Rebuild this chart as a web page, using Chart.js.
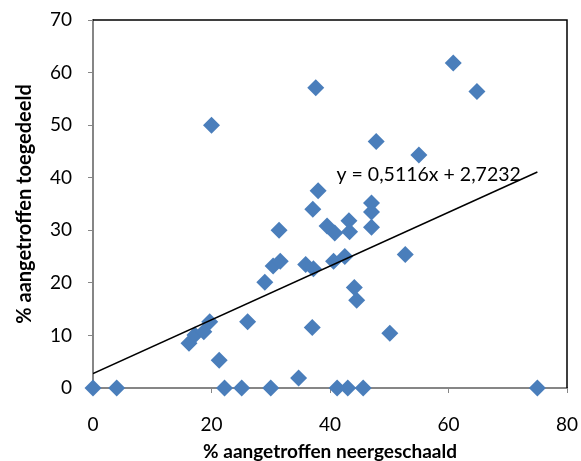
<!DOCTYPE html>
<html>
<head>
<meta charset="utf-8">
<script src="https://cdn.jsdelivr.net/npm/chart.js@4.4.1/dist/chart.umd.min.js"></script>
<style>
html,body{margin:0;padding:0;background:#fff;}
#wrap{width:581px;height:461px;position:relative;}
</style>
</head>
<body>
<div id="wrap"><canvas id="c" width="581" height="461"></canvas></div>
<script>
// % aangetroffen neergeschaald (x) vs % aangetroffen toegedeeld (y)
const xValues = [0, 4, 22.2, 25.1, 30, 41.2, 43, 45.6, 75,
  34.7, 21.3, 16.2, 17.2, 18.7, 19.7, 26.1, 37.0, 50.1,
  44.5, 44.1, 29.0, 30.4, 31.6, 35.9, 37.2, 40.6, 42.5,
  52.7, 31.4, 39.5, 40.8, 43.2, 43.3, 47.0, 47.0, 47.0,
  37.1, 38.0, 47.8, 55.0, 20.0, 37.6, 60.8, 64.8];
const yValues = [0, 0, 0, 0, 0, 0, 0, 0, 0,
  1.9, 5.3, 8.5, 10.1, 10.7, 12.6, 12.6, 11.5, 10.4,
  16.7, 19.1, 20.1, 23.2, 24.1, 23.5, 22.7, 24.1, 25.0,
  25.4, 30.0, 30.8, 29.5, 31.8, 29.7, 35.2, 33.5, 30.6,
  34.0, 37.5, 46.9, 44.3, 50.0, 57.1, 61.8, 56.4];
const trendSlope = 0.5116;
const trendIntercept = 2.7232;
const trendRange = [0, 75];
const trendLabel = 'y = 0,5116x + 2,7232';
const xTicks = [0, 20, 40, 60, 80];
const yTicks = [0, 10, 20, 30, 40, 50, 60, 70];
const xTitle = '% aangetroffen neergeschaald';
const yTitle = '% aangetroffen toegedeeld';

const points = xValues.map((x, i) => ({x: x, y: yValues[i]}));
const trendPoints = trendRange.map(x => ({x: x, y: trendSlope * x + trendIntercept}));

const FONT = 'Lato, "Open Sans", sans-serif';
const axisGray = '#868686';

const framePlugin = {
  id: 'frame',
  beforeDatasetsDraw(chart) {
    const {ctx, chartArea: a} = chart;
    ctx.save();
    ctx.strokeStyle = '#000';
    ctx.lineWidth = 1.5;
    ctx.beginPath();
    ctx.moveTo(a.left, a.top);
    ctx.lineTo(a.right, a.top);
    ctx.lineTo(a.right, a.bottom);
    ctx.stroke();
    ctx.restore();
  },
  afterDraw(chart) {
    const {ctx, scales} = chart;
    ctx.save();
    ctx.fillStyle = '#000';
    ctx.font = '19.5px ' + FONT;
    ctx.textAlign = 'left';
    ctx.textBaseline = 'middle';
    ctx.fillText(trendLabel, scales.x.getPixelForValue(41.1), scales.y.getPixelForValue(40.5));
    ctx.restore();
  }
};

new Chart(document.getElementById('c'), {
  type: 'scatter',
  data: {
    datasets: [
      {
        label: 'trend',
        type: 'line',
        data: trendPoints,
        borderColor: '#000',
        borderWidth: 1.5,
        pointRadius: 0,
        fill: false,
        order: 0
      },
      {
        label: 'data',
        data: points,
        pointStyle: 'rectRot',
        pointRadius: 8.5,
        pointHoverRadius: 8.5,
        backgroundColor: '#4A7EBB',
        borderColor: '#4A7EBB',
        borderWidth: 0,
        order: 1,
        clip: false
      }
    ]
  },
  options: {
    responsive: false,
    animation: false,
    events: [],
    layout: {padding: {top: 20, right: 14, left: 0, bottom: 0}},
    plugins: {legend: {display: false}, tooltip: {enabled: false}},
    scales: {
      x: {
        type: 'linear',
        min: 0, max: 80,
        afterBuildTicks(s) { s.ticks = xTicks.map(v => ({value: v})); },
        afterFit(s) { s.height = 73; s.paddingLeft = 0; s.paddingRight = 0; },
        grid: {drawOnChartArea: false, drawTicks: true, tickLength: 5, color: axisGray, lineWidth: 1},
        border: {color: axisGray, width: 2},
        ticks: {color: '#000', font: {family: FONT, size: 19}, padding: 20, maxRotation: 0},
        title: {display: true, text: xTitle, color: '#000', font: {family: FONT, size: 19, weight: 'bold'}, padding: {top: 0, bottom: -2}}
      },
      y: {
        type: 'linear',
        min: 0, max: 70,
        afterBuildTicks(s) { s.ticks = yTicks.map(v => ({value: v})); },
        afterFit(s) { s.width = 93; s.paddingTop = 0; s.paddingBottom = 0; },
        grid: {drawOnChartArea: false, drawTicks: true, tickLength: 5, color: axisGray, lineWidth: 1},
        border: {color: axisGray, width: 2},
        ticks: {color: '#000', font: {family: FONT, size: 19}, padding: 16},
        title: {display: true, text: yTitle, color: '#000', font: {family: FONT, size: 20, weight: 'bold'}, padding: {top: 13, bottom: 0}}
      }
    }
  },
  plugins: [framePlugin]
});
</script>
</body>
</html>
